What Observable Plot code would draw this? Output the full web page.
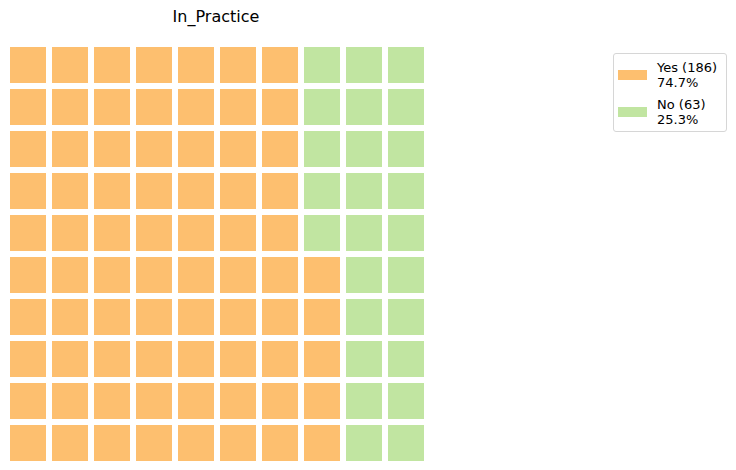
<!DOCTYPE html>
<html>
<head>
<meta charset="utf-8">
<script src="https://cdn.jsdelivr.net/npm/d3@7"></script>
<script src="https://cdn.jsdelivr.net/npm/@observablehq/plot@0.6"></script>
<style>
  html, body { margin: 0; padding: 0; background: #fff; }
  #wrap { position: relative; width: 736px; height: 470px; font-family: "DejaVu Sans", sans-serif; }
  #title { position: absolute; left: 0; top: 6px; width: 432px; text-align: center; font-size: 16px; color: #000; line-height: 22px; }
  #legend { position: absolute; left: 613px; top: 53px; width: 112px; height: 77px; border: 1px solid #d6d6d6; border-radius: 3px; background: #fff; font-size: 13px; line-height: 15px; color: #000; }
  .item { position: absolute; left: 4px; }
  .sw { position: absolute; left: 0; width: 29px; height: 10px; }
  .lab { position: absolute; left: 39px; top: 0; white-space: nowrap; }
</style>
</head>
<body>
<div id="wrap">
  <div id="chart"></div>
  <div id="title"></div>
  <div id="legend"></div>
</div>
<script>
const title = "In_Practice";
const categories = ["Yes", "No"];
const counts = [186, 63];
const colors = ["#fdbf6f", "#c1e5a1"];
const gridRows = 10;
const gridCols = 10;

const total = d3.sum(counts);
const cells = Math.round(gridRows * gridCols);
const squares = counts.map(c => Math.round(c / total * cells));
const data = [];
let k = 0;
categories.forEach((cat, ci) => {
  for (let j = 0; j < squares[ci]; j++, k++) {
    const col = Math.floor(k / gridRows);
    const rowFromBottom = k % gridRows;
    data.push({cat, col, row: gridRows - 1 - rowFromBottom});
  }
});

const plot = Plot.plot({
  width: 736,
  height: 470,
  margin: 0,
  x: {type: "linear", domain: [0, gridCols], range: [7, 427], axis: null},
  y: {type: "linear", domain: [0, gridRows], range: [44, 464], axis: null},
  color: {domain: categories, range: colors},
  marks: [
    Plot.rect(data, {
      x1: d => d.col, x2: d => d.col + 1,
      y1: d => d.row, y2: d => d.row + 1,
      fill: "cat", inset: 3
    })
  ]
});
document.getElementById("chart").appendChild(plot);
document.getElementById("title").textContent = title;

const legend = document.getElementById("legend");
categories.forEach((cat, i) => {
  const item = document.createElement("div");
  item.className = "item";
  item.style.top = (6 + i * 37) + "px";
  const sw = document.createElement("div");
  sw.className = "sw";
  sw.style.background = colors[i];
  sw.style.top = "10px";
  const lab = document.createElement("div");
  lab.className = "lab";
  lab.innerHTML = `${cat} (${counts[i]})<br>${(counts[i] / total * 100).toFixed(1)}%`;
  item.appendChild(sw);
  item.appendChild(lab);
  legend.appendChild(item);
});
</script>
</body>
</html>
